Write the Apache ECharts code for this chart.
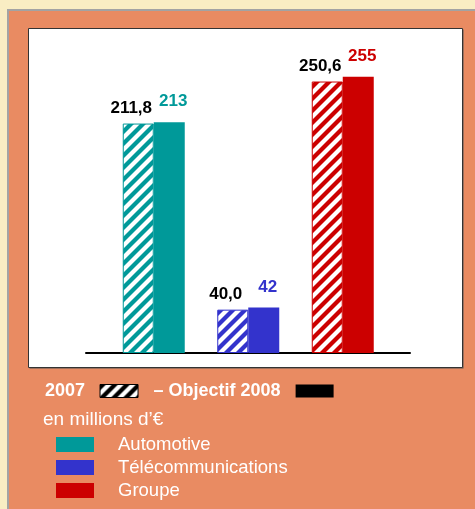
<!DOCTYPE html>
<html>
<head>
<meta charset="utf-8">
<script src="https://cdn.jsdelivr.net/npm/echarts@6/dist/echarts.min.js"></script>
<style>
  html, body {margin: 0; padding: 0;}
  #chart {width: 475px; height: 509px;}
</style>
</head>
<body>
<div id="chart"></div>
<script>
var categories = ['Automotive', 'Télécommunications', 'Groupe'];
var values2007 = [211.8, 40.0, 250.6];
var values2008 = [213, 42, 255];
var colors = ['#009999', '#3333CC', '#CC0000'];
var unitText = 'en millions d’€';

var FONT = 'Liberation Sans, Arial, sans-serif';

// diagonal hatch used for the 2007 bars
function hatch(color) {
  var s = 12, w = 6;
  var c = document.createElement('canvas');
  c.width = c.height = s;
  var ctx = c.getContext('2d');
  ctx.fillStyle = '#fff';
  ctx.fillRect(0, 0, s, s);
  ctx.fillStyle = color;
  [-s, 0].forEach(function (k) {
    ctx.beginPath();
    ctx.moveTo(k, s);
    ctx.lineTo(k + w, s);
    ctx.lineTo(k + w + s, 0);
    ctx.lineTo(k + s, 0);
    ctx.closePath();
    ctx.fill();
  });
  return {image: c, repeat: 'repeat'};
}

var chart = echarts.init(document.getElementById('chart'));
chart.setOption({
  backgroundColor: '#F9EDC3',
  animation: false,
  title: {
    text: unitText,
    left: 43, top: 410, padding: 0,
    textStyle: {color: '#fff', fontSize: 19, fontWeight: 'normal', fontFamily: FONT}
  },
  graphic: [
    {type: 'rect', z: 0, shape: {x: 8, y: 10, width: 480, height: 510},
     style: {fill: '#E98B62', stroke: '#A3A3A3', lineWidth: 2}},
    {type: 'rect', z: 0, shape: {x: 29.5, y: 29.5, width: 434, height: 339},
     style: {fill: '#555'}},
    {type: 'rect', z: 0, shape: {x: 28.5, y: 28.5, width: 434, height: 339},
     style: {fill: '#fff', stroke: '#333', lineWidth: 1}}
  ],
  grid: [
    {left: 106.5, right: 85, top: 28, bottom: 156},
    {left: 86, right: 65, top: 28, bottom: 156}
  ],
  xAxis: [
    {type: 'category', data: categories, gridIndex: 0,
     axisLine: {show: false}, axisTick: {show: false}, axisLabel: {show: false}},
    {type: 'value', gridIndex: 1, min: 0, max: 1,
     axisLine: {show: true, lineStyle: {color: '#000', width: 2}},
     axisTick: {show: false}, axisLabel: {show: false}, splitLine: {show: false}}
  ],
  yAxis: [
    {type: 'value', gridIndex: 0, min: 0, max: 300, show: false},
    {type: 'value', gridIndex: 1, min: 0, max: 1, show: false}
  ],
  legend: [
    {
      left: 45, top: 382, padding: 0,
      align: 'right',
      itemWidth: 38, itemHeight: 13, itemGap: 15,
      selectedMode: false,
      formatter: function (name) {
        return name === '2008' ? '– Objectif 2008' : name;
      },
      textStyle: {color: '#fff', fontWeight: 'bold', fontSize: 18, fontFamily: FONT, padding: [0, 10, 0, 0]},
      data: [
        {name: '2007', icon: 'rect', itemStyle: {color: hatch('#000'), borderColor: '#000', borderWidth: 1}},
        {name: '2008', icon: 'rect', itemStyle: {color: '#000', borderWidth: 0}}
      ]
    },
    {
      left: 56, top: 435, padding: 0,
      orient: 'vertical',
      itemWidth: 38, itemHeight: 15, itemGap: 4,
      selectedMode: false,
      icon: 'rect',
      textStyle: {color: '#fff', fontSize: 18.5, fontFamily: FONT, padding: [0, 0, 0, 19]},
      data: categories
    }
  ],
  series: [
    {
      name: '2007',
      type: 'bar',
      barWidth: 31,
      barGap: '0%',
      data: values2007.map(function (v, i) {
        return {value: v, itemStyle: {color: hatch(colors[i]), borderColor: colors[i], borderWidth: 1}};
      }),
      label: {
        show: true, position: 'top', distance: 7, offset: [-7, 0],
        color: '#000', fontWeight: 'bold', fontSize: 17, fontFamily: FONT,
        formatter: function (p) { return p.value.toFixed(1).replace('.', ','); }
      }
    },
    {
      name: '2008',
      type: 'bar',
      barWidth: 31,
      data: values2008.map(function (v, i) {
        return {value: v, itemStyle: {color: colors[i]}, label: {color: colors[i]}};
      }),
      label: {
        show: true, position: 'top', distance: 12, offset: [4, 0],
        fontWeight: 'bold', fontSize: 17, fontFamily: FONT
      }
    }
  ].concat(categories.map(function (name, i) {
    // legend-only entries for the three activities
    return {name: name, type: 'line', data: [], itemStyle: {color: colors[i]}, lineStyle: {color: colors[i]}};
  }))
});
</script>
</body>
</html>
